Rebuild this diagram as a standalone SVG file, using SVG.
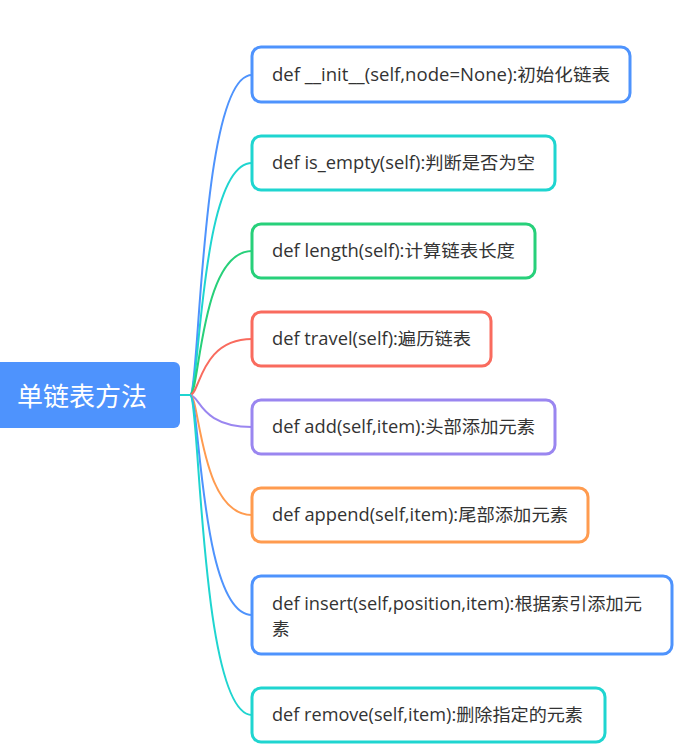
<svg xmlns="http://www.w3.org/2000/svg" width="678" height="755" viewBox="0 0 678 755">
<style>
.n rect{fill:#fff;stroke-width:3}
.n text{font-family:"Open Sans","Noto Sans CJK SC",sans-serif;font-size:17.5px;fill:#333}
.c path{fill:none;stroke-width:2}
</style>
<rect width="678" height="755" fill="#fff"/>
<g id="root">
<rect x="-10" y="362" width="190" height="66" rx="6" fill="#4E93FD"/>
<text x="17" y="406" font-family="Noto Sans CJK SC,sans-serif" font-size="26" fill="#fff" textLength="130" lengthAdjust="spacingAndGlyphs">单链表方法</text>
</g>
<g class="c" id="connectors">
<path d="M180,395 H190" stroke="#1FD5D0"/>
<path d="M190,395 C200,395 200,75 252,75" stroke="#4E93FD"/>
<path d="M190,395 C200,395 200,163 252,163" stroke="#1FD5D0"/>
<path d="M190,395 C200,395 200,251 252,251" stroke="#27D07A"/>
<path d="M190,395 C200,395 200,339 252,339" stroke="#F96B5E"/>
<path d="M190,395 C200,395 200,427 252,427" stroke="#9A86F0"/>
<path d="M190,395 C200,395 200,515 252,515" stroke="#FF9B4F"/>
<path d="M190,395 C200,395 200,615 252,615" stroke="#4E93FD"/>
<path d="M190,395 C200,395 200,715 252,715" stroke="#1FD5D0"/>
</g>
<g class="n" id="n1"><rect x="252" y="47" width="378" height="55" rx="9" stroke="#4E93FD"/><text x="272" y="81" textLength="338" lengthAdjust="spacingAndGlyphs">def __init__(self,node=None):初始化链表</text></g>
<g class="n" id="n2"><rect x="252" y="136" width="303" height="54" rx="9" stroke="#1FD5D0"/><text x="272" y="169" textLength="263" lengthAdjust="spacingAndGlyphs">def is_empty(self):判断是否为空</text></g>
<g class="n" id="n3"><rect x="252" y="224" width="283" height="54" rx="9" stroke="#27D07A"/><text x="272" y="257" textLength="243" lengthAdjust="spacingAndGlyphs">def length(self):计算链表长度</text></g>
<g class="n" id="n4"><rect x="252" y="312" width="239" height="54" rx="9" stroke="#F96B5E"/><text x="272" y="345" textLength="199" lengthAdjust="spacingAndGlyphs">def travel(self):遍历链表</text></g>
<g class="n" id="n5"><rect x="252" y="400" width="303" height="54" rx="9" stroke="#9A86F0"/><text x="272" y="433" textLength="263" lengthAdjust="spacingAndGlyphs">def add(self,item):头部添加元素</text></g>
<g class="n" id="n6"><rect x="252" y="488" width="336" height="54" rx="9" stroke="#FF9B4F"/><text x="272" y="521" textLength="296" lengthAdjust="spacingAndGlyphs">def append(self,item):尾部添加元素</text></g>
<g class="n" id="n7"><rect x="252" y="576" width="420" height="78" rx="9" stroke="#4E93FD"/><text x="272" y="610" textLength="370" lengthAdjust="spacingAndGlyphs">def insert(self,position,item):根据索引添加元</text><text x="272" y="635">素</text></g>
<g class="n" id="n8"><rect x="252" y="688" width="353" height="54" rx="9" stroke="#1FD5D0"/><text x="272" y="721" textLength="311" lengthAdjust="spacingAndGlyphs">def remove(self,item):删除指定的元素</text></g>
</svg>
